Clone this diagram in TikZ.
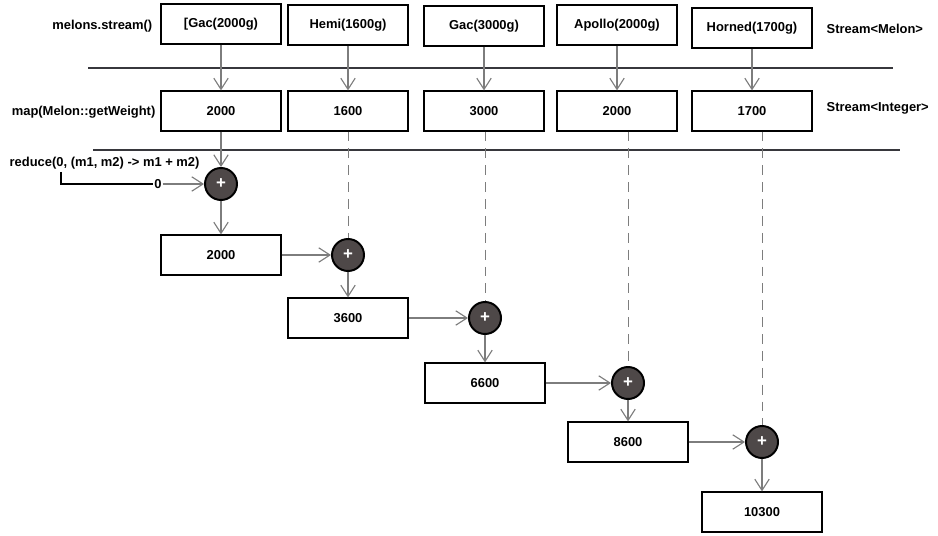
\documentclass[tikz,border=0pt]{standalone}
\usepackage{fontspec}
\setmainfont{Liberation Sans}
\usetikzlibrary{positioning,arrows.meta,calc}
\definecolor{flowgray}{RGB}{125,125,125}
\definecolor{rulegray}{RGB}{55,55,60}
\definecolor{plusfill}{RGB}{78,72,72}

\begin{document}
\begin{tikzpicture}[x=0.025cm,y=-0.025cm,
	lbl/.style={font=\fontsize{9.2}{11}\selectfont\bfseries, inner sep=1pt},
	valbox/.style={draw=black, line width=1.4pt, fill=white, minimum width=2.98cm, minimum height=0.98cm, inner sep=0pt, font=\fontsize{9.2}{11}\selectfont\bfseries},
	plusnode/.style={circle, draw=black, line width=1.4pt, fill=plusfill, minimum size=0.8cm, inner sep=0pt, text=white, font=\fontsize{12}{12}\selectfont\bfseries},
	flow/.style={draw=flowgray, line width=0.8pt, -{Straight Barb[length=2.8mm,width=3.6mm]}},
	guide/.style={draw=flowgray, line width=0.6pt, dash pattern=on 7pt off 5pt},
	stage/.style={draw=rulegray, line width=1pt}]
		\useasboundingbox (0,0) rectangle (938,536);

		% stream of melons
		\node[lbl, anchor=east] (srcl) at (154,26) {melons.stream()};
		\node[valbox] (t1) at (221,24) {[Gac(2000g)};
		\node[valbox] (t2) at (348,25) {Hemi(1600g)};
		\node[valbox] (t3) at (484,26) {Gac(3000g)};
		\node[valbox] (t4) at (617,25) {Apollo(2000g)};
		\node[valbox] (t5) at (752,28) {Horned(1700g)};
		\node[lbl, anchor=west] (tmel) at (825,29) {Stream<Melon>};

		\draw[stage] (88,68) -- (893,68);

		% map to weights
		\node[lbl, anchor=east] (mapl) at (157,112) {map(Melon::getWeight)};
		\node[valbox] (w1) at (221,111) {2000};
		\node[valbox] (w2) at (348,111) {1600};
		\node[valbox] (w3) at (484,111) {3000};
		\node[valbox] (w4) at (617,111) {2000};
		\node[valbox] (w5) at (752,111) {1700};
		\node[lbl, anchor=west] (tint) at (825,108) {Stream<Integer>};

		\draw[flow] (t1) -- (w1);
		\draw[flow] (t2) -- (w2);
		\draw[flow] (t3) -- (w3);
		\draw[flow] (t4) -- (w4);
		\draw[flow] (t5) -- (w5);

		\draw[stage] (93,150) -- (900,150);

		% reduce
		\node[lbl, anchor=west] (redl) at (8,163) {reduce(0, (m1, m2) -> m1 + m2)};
		\node[plusnode] (c1) at (221,184) {+};
		\node[plusnode] (c2) at (348,255) {+};
		\node[plusnode] (c3) at (485,318) {+};
		\node[plusnode] (c4) at (628,383) {+};
		\node[plusnode] (c5) at (762,442) {+};

		\node[valbox] (r1) at (221,255) {2000};
		\node[valbox] (r2) at (348,318) {3600};
		\node[valbox] (r3) at (485,383) {6600};
		\node[valbox] (r4) at (628,442) {8600};
		\node[valbox] (r5) at (762,512) {10300};

		\coordinate (zstart) at (61,172);
		\node[lbl, inner sep=0.5pt] (zero) at (158,184) {0};
		\draw[black, line width=0.9pt] (zstart) |- (zero.west);
		\draw[flow] (zero.east) -- (c1);

		\draw[flow] (w1) -- (c1);
		\draw[guide] (c2 |- w2.south) -- (c2.north);
		\draw[guide] (c3 |- w3.south) -- (c3.north);
		\draw[guide] (c4 |- w4.south) -- (c4.north);
		\draw[guide] (c5 |- w5.south) -- (c5.north);

		\draw[flow] (c1) -- (r1);
		\draw[flow] (r1) -- (c2);
		\draw[flow] (c2) -- (r2);
		\draw[flow] (r2) -- (c3);
		\draw[flow] (c3) -- (r3);
		\draw[flow] (r3) -- (c4);
		\draw[flow] (c4) -- (r4);
		\draw[flow] (r4) -- (c5);
		\draw[flow] (c5) -- (r5);
\end{tikzpicture}
\end{document}
